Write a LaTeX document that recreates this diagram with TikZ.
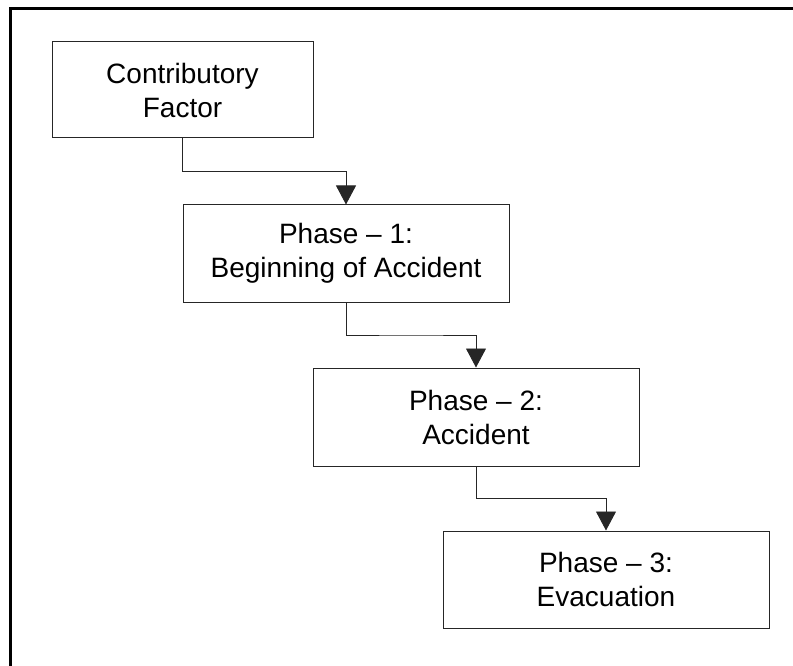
\documentclass[tikz,border=0pt]{standalone}
\usepackage{fontspec}
\setmainfont{Liberation Sans}
\usetikzlibrary{arrows.meta}
\usetikzlibrary{calc}
\tikzset{
	phasebox/.style={draw=black!85,line width=1pt,fill=white,align=center,
		font=\fontsize{28}{34}\selectfont,inner sep=0pt},
	flow/.style={draw=black!85,line width=0.9pt,-{Triangle[width=20pt,length=19pt]}}
}
\begin{document}
\begin{tikzpicture}[x=1pt,y=-1pt]

	\useasboundingbox (0,0) rectangle (793,666);
	\draw[line width=2.6pt] (10.5,666) -- (10.5,8.5) -- (793,8.5);

	\node[phasebox,minimum width=261pt,minimum height=96pt] (factor) at (182.5,90) {Contributory\\Factor};
	\node[phasebox,minimum width=326pt,minimum height=97pt] (phase1) at (346,253.5) {Phase -- 1:\\Beginning of Accident};
	\node[phasebox,minimum width=326pt,minimum height=98pt] (phase2) at (476,417) {Phase -- 2:\\Accident};
	\node[phasebox,minimum width=326pt,minimum height=97pt] (phase3) at (606,579.5) {Phase -- 3:\\Evacuation};

	\draw[flow] (factor.south) |- ($(factor.south)!.5!(phase1.north)$) -| (phase1.north);
	\draw[flow] (phase1.south) |- ($(phase1.south)!.5!(phase2.north)$) -| (phase2.north);
	\draw[flow] (phase2.south) |- ($(phase2.south)!.5!(phase3.north)$) -| (phase3.north);

\end{tikzpicture}
\end{document}
